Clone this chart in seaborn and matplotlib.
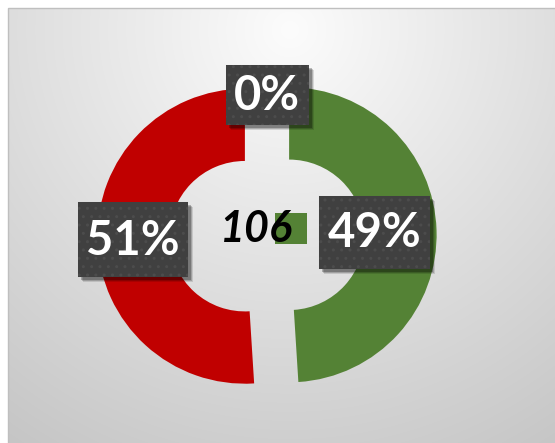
import numpy as np
import matplotlib
matplotlib.use("Agg")
import matplotlib.pyplot as plt
import seaborn as sns
from matplotlib.patches import Rectangle

# data
categories = ["Yes", "No", "Other"]
shares = [49, 51, 0]
total_label = "106"

colors = ["#548235", "#C00000", "#7f7f7f"]

sns.set_theme(style="white")
plt.rcParams["font.family"] = ["Lato", "DejaVu Sans"]

W, H = 555, 443
fig = plt.figure(figsize=(W / 100, H / 100), dpi=100)
ax = fig.add_axes([0, 0, 1, 1])
ax.set_xlim(0, W)
ax.set_ylim(0, H)
ax.axis("off")

# background gradient (pixel coords, y up)
x0 = 8
xs = np.arange(x0, W) + 0.5
ys = np.arange(0, H - 8) + 0.5
XX, YY = np.meshgrid(xs, ys)
d = np.hypot(XX - 290, (H - 30) - YY)
g = np.clip(252 - 0.11 * d, 190, 252) / 255.0
img = np.dstack([g, g, g])
ax.imshow(img, extent=(x0, W, 0, H - 8), origin="lower", zorder=0, aspect="auto")
ax.add_patch(Rectangle((7.5, -1), W, H - 7.5 + 1, fill=False, ec="#bfbfbf", lw=1, zorder=1))

cx, cy, R = 267, 207.5, 147.5
explode = [0.15 * R, 0.15 * R, 0.0]
wedges, _ = ax.pie(shares, colors=colors, startangle=90, counterclock=False,
                   explode=explode, center=(cx, cy), radius=R,
                   wedgeprops=dict(width=R * 0.49, linewidth=0))
for w in wedges:
    w.set_zorder(2)
ax.set_xlim(0, W)
ax.set_ylim(0, H)
ax.set_aspect("auto")

# data labels
rfac = [0.58, 0.76, 0.95]
box_size = [(111, 73), (110, 75), (83, 60)]
for w, val, ex, rf, (bw, bh) in zip(wedges, shares, explode, rfac, box_size):
    mid = np.deg2rad((w.theta1 + w.theta2) / 2)
    ox = cx + ex * np.cos(mid)
    oy = cy + ex * np.sin(mid)
    tx = ox + rf * R * np.cos(mid)
    ty = oy + rf * R * np.sin(mid)
    for k, a in enumerate([0.12, 0.18, 0.25]):
        s = 5 - k
        ax.add_patch(Rectangle((tx - bw / 2 + s, ty - bh / 2 - s), bw, bh,
                               fc="black", ec="none", alpha=a, zorder=5))
    ax.add_patch(Rectangle((tx - bw / 2, ty - bh / 2), bw, bh, fc="#404040",
                           ec="#4c4c4c", lw=0.01, hatch="..", zorder=6))
    ax.text(tx, ty - 1, f"{val}%", fontsize=34, fontweight="bold", color="white",
            ha="center", va="center", zorder=7)

# center total with legend key
ax.add_patch(Rectangle((275, 199), 32, 31, fc=colors[0], ec="none", zorder=3))
ax.text(256, 214, total_label, fontsize=31, fontweight="bold", fontstyle="italic",
        color="black", ha="center", va="center", zorder=4)

fig.savefig("out.png", dpi=100)
